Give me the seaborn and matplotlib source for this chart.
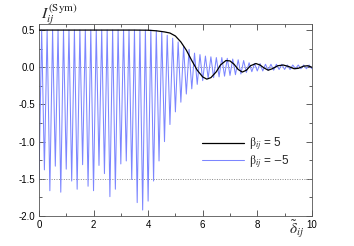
import numpy as np
import pandas as pd
import matplotlib
matplotlib.use('Agg')
import matplotlib.pyplot as plt
import seaborn as sns
from matplotlib.ticker import MultipleLocator

# beta = 5 curve
black_delta = [0.0, 3.5, 4.0, 4.3, 4.6, 4.8, 5.0, 5.2, 5.4, 5.6, 5.8, 6.0, 6.15,
               6.3, 6.5, 6.65, 6.85, 7.0, 7.15, 7.3, 7.45, 7.6, 7.75, 7.95, 8.1,
               8.25, 8.4, 8.55, 8.75, 8.95, 9.15, 9.35, 9.5, 9.7, 9.85, 10.0]
black_val = [0.5, 0.5, 0.498, 0.49, 0.475, 0.46, 0.42, 0.34, 0.23, 0.09, -0.04,
             -0.13, -0.16, -0.14, -0.06, 0.03, 0.09, 0.085, 0.04, -0.03, -0.065,
             -0.04, 0.02, 0.05, 0.03, -0.01, -0.04, -0.02, 0.02, 0.03, 0.01,
             -0.02, -0.015, 0.015, 0.02, 0.0]

# beta = -5 curve: troughs at delta = 0, 0.2, ... 10 and peaks at 0.1, 0.3, ... 9.9
blue_troughs = [-1.55, -1.38, -1.66, -1.33, -1.68, -1.37, -1.53, -1.64, -1.31, -1.60,
                -1.66, -1.32, -1.43, -1.74, -1.64, -1.30, -1.26, -1.51, -1.82, -1.92,
                -1.80, -1.53, -1.26, -1.00, -0.77, -0.60, -0.47, -0.36, -0.29, -0.23,
                -0.18, -0.15, -0.14, -0.13, -0.12, -0.11, -0.10, -0.09, -0.07, -0.06,
                -0.05, -0.05, -0.04, -0.04, -0.03, -0.03, -0.03, -0.02, -0.02, -0.02,
                -0.02]
blue_peaks = [0.5] * 21 + [0.49, 0.47, 0.43, 0.39, 0.34, 0.28, 0.24, 0.19, 0.17, 0.15,
                           0.14, 0.13, 0.13, 0.12, 0.11, 0.10, 0.09, 0.06, 0.05, 0.05,
                           0.04, 0.04, 0.04, 0.04, 0.03, 0.03, 0.03, 0.03, 0.03]

x_ticks = [0, 2, 4, 6, 8, 10]
y_ticks = [0.5, 0.0, -0.5, -1.0, -1.5, -2.0]
y_ticklabels = ['0.5', '0.0', '-0.5', '-1.0', '-1.5', '-2.0']
ref_lines = [0.0, -1.5]

trough_delta = np.round(np.arange(0, 10.01, 0.2), 2)
peak_delta = np.round(np.arange(0.1, 9.91, 0.2), 2)
blue = pd.DataFrame({'delta': np.concatenate([trough_delta, peak_delta]),
                     'val': blue_troughs + blue_peaks}).sort_values('delta')
black = pd.DataFrame({'delta': black_delta, 'val': black_val})

sns.set_theme(style='ticks')
plt.rcParams['font.family'] = ['Liberation Sans', 'DejaVu Sans']
plt.rcParams['mathtext.fontset'] = 'stix'
plt.rcParams['axes.unicode_minus'] = False

fig = plt.figure(figsize=(3.54, 2.46), dpi=100)
ax = fig.add_axes([0.110, 0.122, 0.771, 0.780])

for yv in ref_lines:
    ax.axhline(yv, color='#888888', lw=0.7, ls=(0, (1, 1.5)), zorder=1)

sns.lineplot(data=black, x='delta', y='val', color='black', lw=0.9,
             label=r'$\mathrm{\beta}_{ij}$ = 5', ax=ax, zorder=3)
sns.lineplot(data=blue, x='delta', y='val', color='#7c86ff', lw=0.75,
             label=r'$\mathrm{\beta}_{ij}$ = $-$5', ax=ax, zorder=2)

ax.set_xlim(0, 10)
ax.set_ylim(-2.0, 0.58)
ax.set_xticks(x_ticks)
ax.set_yticks(y_ticks)
ax.set_yticklabels(y_ticklabels)
ax.xaxis.set_minor_locator(MultipleLocator(1))
ax.yaxis.set_minor_locator(MultipleLocator(0.25))
ax.tick_params(which='both', direction='in', top=True, right=True,
               labelsize=7, width=0.6, colors='#444444', labelcolor='black', pad=3)
ax.tick_params(which='major', length=4)
ax.tick_params(which='minor', length=2)
for sp in ax.spines.values():
    sp.set_linewidth(0.6)
    sp.set_color('#555555')
ax.set_xlabel('')
ax.set_ylabel('')

fig.text(0.115, 0.99, r'$I_{ij}^{\mathrm{(Sym)}}$', fontsize=11.5, ha='left', va='top')
fig.text(0.815, 0.025, r'$\tilde{\delta}_{ij}$', fontsize=11, ha='left', va='bottom')

ax.legend(loc='upper left', bbox_to_anchor=(0.58, 0.445), frameon=False,
          fontsize=8.5, handlelength=3.6, handletextpad=0.4, labelspacing=0.05,
          borderaxespad=0)

fig.savefig('out.png', dpi=100)
